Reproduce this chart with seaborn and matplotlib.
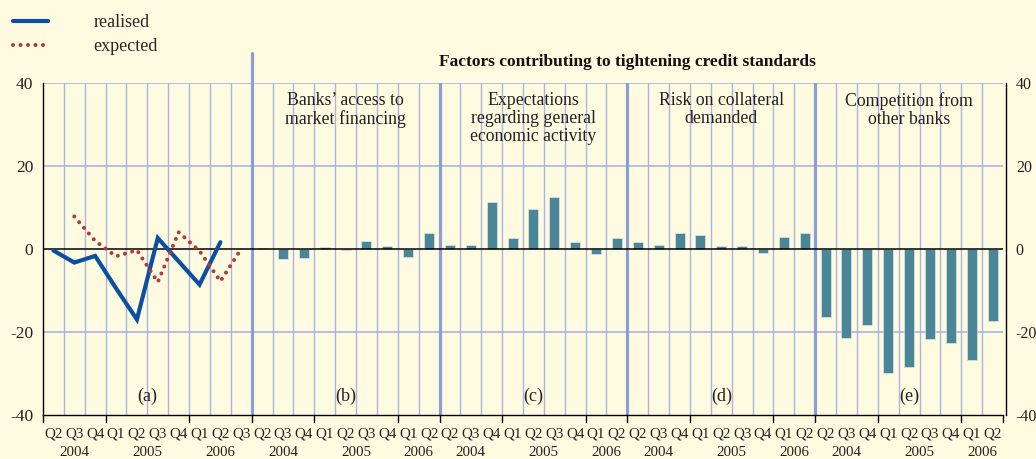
import numpy as np
import pandas as pd
import matplotlib
matplotlib.use("Agg")
import matplotlib.pyplot as plt
import matplotlib.transforms as mtransforms
import seaborn as sns

# ---------------- data ----------------
quarters_a = ["Q2", "Q3", "Q4", "Q1", "Q2", "Q3", "Q4", "Q1", "Q2", "Q3"]
quarters_f = ["Q2", "Q3", "Q4", "Q1", "Q2", "Q3", "Q4", "Q1", "Q2"]
years = ["2004", "2005", "2006"]

realised = [-0.4, -3.3, -1.7, -9.5, -17.0, 2.6, -3.0, -8.6, 1.6]
expected = [np.nan, 7.8, 1.9, -1.8, -0.3, -8.0, 4.0, -0.5, -7.8, 0.0]

access = [0.3, -2.5, -2.2, 0.5, -0.2, 2.0, 0.8, -2.0, 3.7]
expectations = [1.0, 0.9, 11.3, 2.5, 9.7, 12.6, 1.6, -1.3, 2.5]
collateral = [1.6, 1.0, 3.9, 3.3, 0.6, 0.6, -1.0, 2.75, 3.7]
competition = [-16.5, -21.5, -18.4, -30.0, -28.5, -21.6, -22.6, -26.7, -17.3]

panel_titles = ["Banks\u2019 access to\nmarket financing",
                "Expectations\nregarding general\neconomic activity",
                "Risk on collateral\ndemanded",
                "Competition from\nother banks"]
panel_letters = ["(a)", "(b)", "(c)", "(d)", "(e)"]
main_title = "Factors contributing to tightening credit standards"
legend_labels = ["realised", "expected"]
yticks = [-40, -20, 0, 20, 40]

# ---------------- style ----------------
sns.set_theme(style="white")
plt.rcParams["font.family"] = ["Liberation Serif", "DejaVu Serif"]
plt.rcParams["axes.unicode_minus"] = False

BG = "#FFFBE1"
GRID = "#A9B5E0"
SEP = "#8C9DD8"
BAR = "#4A8698"
BLUE = "#0B4FA0"
RED = "#B23A3A"
TXT = "#222222"

n_a = len(quarters_a)
n_f = len(quarters_f)
n_total = n_a + 4 * n_f
offsets = [n_a + i * n_f for i in range(4)]

factor_series = [access, expectations, collateral, competition]
rows = []
for off, ser in zip(offsets, factor_series):
    for j, v in enumerate(ser):
        rows.append({"slot": off + j, "value": v})
bars_df = pd.DataFrame(rows)

fig = plt.figure(figsize=(10.36, 4.59), dpi=100)
fig.patch.set_facecolor(BG)
W, H = 1036, 459
ax_left, ax_right, ax_top, ax_bot = 43, 1003, 82.7, 415
ax = fig.add_axes([ax_left / W, 1 - ax_bot / H, (ax_right - ax_left) / W, (ax_bot - ax_top) / H])
ax.set_facecolor(BG)

# grid lines
for yv in [40, 20, -20]:
    ax.axhline(yv, color=GRID, lw=1.2, zorder=0)
for b in range(1, n_total):
    xb = b - 0.5
    if b in offsets:
        ax.axvline(xb, color=SEP, lw=2.3, zorder=0.5)
    else:
        ax.axvline(xb, color=GRID, lw=1.0, zorder=0)

sns.barplot(data=bars_df, x="slot", y="value", order=list(range(n_total)),
            color=BAR, saturation=1, width=0.48, errorbar=None, ax=ax,
            edgecolor="#DCE6EA", linewidth=0.5, zorder=2)

ax.axhline(0, color="black", lw=1.1, zorder=3)

sns.lineplot(x=list(range(len(realised))), y=realised, ax=ax, color=BLUE,
             lw=3.0, label=legend_labels[0], zorder=4, solid_joinstyle="miter")
sns.lineplot(x=list(range(len(expected))), y=expected, ax=ax, color=RED,
             lw=2.9, linestyle=(0, (0.01, 1.85)), dash_capstyle="round",
             label=legend_labels[1], zorder=4)
handles, labels = ax.get_legend_handles_labels()
if ax.get_legend() is not None:
    ax.get_legend().remove()

ax.set_xlim(-0.5, n_total - 0.5)
ax.set_ylim(-40, 40)
ax.set_xlabel("")
ax.set_ylabel("")

# spines
ax.spines["top"].set_visible(False)
for s in ["left", "right", "bottom"]:
    ax.spines[s].set_visible(True)
    ax.spines[s].set_color("black")
    ax.spines[s].set_linewidth(1.0)
ax.spines["right"].set_position(("outward", 2.2))

# y ticks both sides
ax.set_yticks(yticks)
ax.set_yticklabels([str(v) for v in yticks])
ax.tick_params(axis="y", which="both", length=0, labelsize=12.5, pad=7,
               labelleft=True, labelright=True, colors=TXT)
for tk in ax.yaxis.get_major_ticks():
    tk.label2.set_fontsize(11.5)

# x ticks
xlabels = quarters_a + quarters_f * 4
ax.set_xticks(list(range(n_total)))
ax.set_xticklabels(xlabels)
ax.set_xticks([b - 0.5 for b in range(n_total + 1)], minor=True)
ax.tick_params(axis="x", which="major", length=0, labelsize=10.8, pad=9, colors=TXT)
ax.tick_params(axis="x", which="minor", length=3, width=1.0, direction="out", color="black")

trans = mtransforms.blended_transform_factory(ax.transData, ax.transAxes)

# longer ticks at year / panel boundaries
long_bounds = [0, 3, 7, 10]
for off in offsets:
    long_bounds += [off + 3, off + 7, off + 9]
for b in long_bounds:
    ax.plot([b - 0.5, b - 0.5], [0, -0.02], transform=trans, color="black",
            lw=1.0, clip_on=False, zorder=5)

# year labels
year_pos_a = [1, 4.5, 8]
year_pos_f = [1, 4.5, 7.5]
for yl, p in zip(years, year_pos_a):
    ax.text(p, -0.112, yl, transform=trans, ha="center", va="center", fontsize=10.8, color=TXT)
for off in offsets:
    for yl, p in zip(years, year_pos_f):
        ax.text(off + p, -0.112, yl, transform=trans, ha="center", va="center", fontsize=10.8, color=TXT)

# separator extending above the axes
ax.plot([n_a - 0.5, n_a - 0.5], [1.0, (ax_bot - 53) / (ax_bot - ax_top)], transform=trans,
        color=SEP, lw=2.3, clip_on=False, zorder=1)

# panel titles & letters
centers = [(n_a - 1) / 2] + [off + (n_f - 1) / 2 for off in offsets]
for c, t in zip(centers[1:], panel_titles):
    ax.text(c, 37.7, t, ha="center", va="top", fontsize=12.8, linespacing=1.05, color=TXT)
for c, t in zip(centers, panel_letters):
    ax.text(c, -35.4, t, ha="center", va="center", fontsize=13, color=TXT)

ax.text((offsets[0] - 0.5 + n_total - 0.5) / 2, (ax_bot - 62) / (ax_bot - ax_top), main_title,
        transform=trans, ha="center", va="center", fontsize=12.5, fontweight="bold", color="#111111")

fig.legend(handles, labels, loc="upper left", bbox_to_anchor=(13 / W, 1 - 14 / H),
           frameon=False, fontsize=13, handlelength=1.95, handletextpad=2.5,
           labelspacing=0.38, borderpad=0, borderaxespad=0)

fig.savefig("out.png", dpi=100, facecolor=BG)
